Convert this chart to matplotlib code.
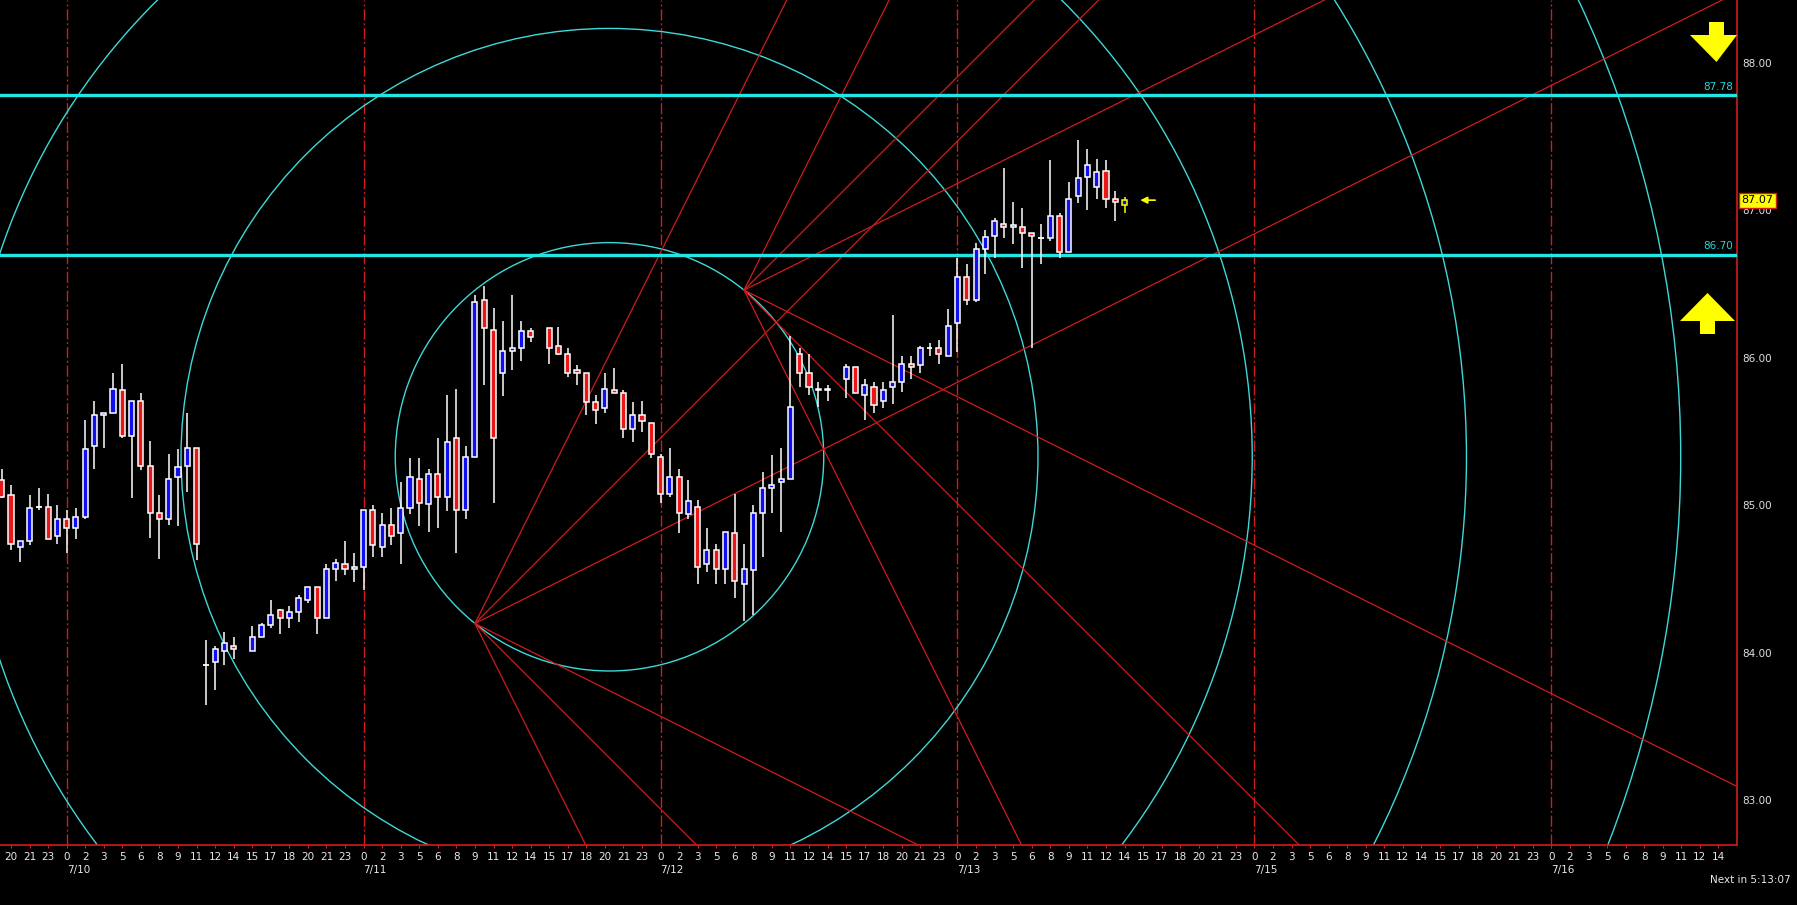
import numpy as np
import matplotlib
matplotlib.use('Agg')
import matplotlib.pyplot as plt
from matplotlib.patches import Ellipse, Polygon
import matplotlib.transforms as mtransforms

nan = np.nan

# 45 minute bars, bar 0 = 7/10 00:00, 32 bars per day
bar_start = -7
opens = [85.17, 85.07, 84.72, 84.76, 84.99, 84.99, 84.79, 84.91, 84.85, 84.92,
         85.40, 85.61, 85.63, 85.78, 85.47, 85.71, 85.27, 84.95, 84.91, 85.19,
         85.27, 85.39, 83.92, 83.94, 84.01, 84.05, nan, 84.01, 84.11, 84.19,
         84.29, 84.24, 84.28, 84.36, 84.45, 84.24, 84.57, 84.60, 84.57, 84.58,
         84.97, 84.72, 84.87, 84.81, 84.98, 85.18, 85.01, 85.21, 85.06, 85.46,
         84.97, 85.33, 86.39, 86.19, 85.90, 86.05, 86.07, 86.18, nan, 86.20,
         86.08, 86.03, 85.92, 85.90, 85.70, 85.66, 85.78, 85.76, 85.52, 85.61,
         85.56, 85.33, 85.08, 85.19, 84.94, 84.99, 84.60, 84.70, 84.57, 84.81,
         84.47, 84.56, 84.95, 85.12, 85.16, 85.18, 86.03, 85.90, 85.79, 85.79,
         nan, 85.86, 85.94, 85.75, 85.80, 85.71, 85.80, 85.84, 85.96, 85.95,
         86.07, 86.07, 86.01, 86.24, 86.55, 86.39, 86.74, 86.83, 86.91, 86.89,
         86.89, 86.85, 86.81, 86.81, 86.96, 86.72, 87.10, 87.23, 87.16, 87.27,
         87.08, 87.04]
highs = [85.25, 85.14, 84.76, 85.07, 85.12, 85.08, 85.00, 84.97, 84.98, 85.58,
         85.71, 85.63, 85.90, 85.96, 85.71, 85.76, 85.44, 85.07, 85.35, 85.38,
         85.63, 85.39, 84.09, 84.05, 84.14, 84.11, nan, 84.18, 84.20, 84.36,
         84.30, 84.32, 84.39, 84.45, 84.45, 84.60, 84.64, 84.76, 84.68, 84.97,
         85.00, 84.95, 84.98, 85.16, 85.32, 85.32, 85.25, 85.46, 85.75, 85.79,
         85.40, 86.43, 86.49, 86.34, 86.25, 86.43, 86.25, 86.20, nan, 86.20,
         86.21, 86.07, 85.95, 85.90, 85.75, 85.90, 85.93, 85.78, 85.70, 85.71,
         85.56, 85.35, 85.39, 85.25, 85.17, 85.04, 84.85, 84.74, 84.82, 85.08,
         84.74, 85.00, 85.23, 85.34, 85.39, 86.15, 86.07, 86.03, 85.84, 85.82,
         nan, 85.96, 85.94, 85.86, 85.84, 85.84, 86.29, 86.01, 86.01, 86.08,
         86.10, 86.12, 86.33, 86.68, 86.64, 86.78, 86.87, 86.95, 87.29, 87.06,
         87.02, 86.85, 86.91, 87.34, 86.98, 87.19, 87.48, 87.42, 87.35, 87.34,
         87.13, 87.09]
lows = [85.05, 84.70, 84.62, 84.73, 84.97, 84.77, 84.74, 84.68, 84.77, 84.91,
        85.25, 85.39, 85.63, 85.46, 85.05, 85.24, 84.78, 84.64, 84.87, 84.86,
        85.09, 84.63, 83.65, 83.75, 83.92, 83.96, nan, 84.01, 84.11, 84.17,
        84.13, 84.17, 84.21, 84.34, 84.13, 84.24, 84.49, 84.53, 84.48, 84.43,
        84.65, 84.65, 84.73, 84.60, 84.94, 84.86, 84.82, 84.85, 84.96, 84.68,
        84.91, 85.33, 85.82, 85.02, 85.74, 85.92, 85.98, 86.11, nan, 85.96,
        86.02, 85.87, 85.82, 85.61, 85.55, 85.63, 85.76, 85.46, 85.43, 85.50,
        85.32, 85.02, 85.06, 84.81, 84.91, 84.47, 84.55, 84.47, 84.47, 84.37,
        84.22, 84.26, 84.65, 84.95, 84.82, 85.18, 85.80, 85.75, 85.67, 85.71,
        nan, 85.73, 85.76, 85.58, 85.63, 85.66, 85.69, 85.77, 85.86, 85.90,
        86.01, 85.96, 86.01, 86.04, 86.36, 86.38, 86.57, 86.68, 86.81, 86.77,
        86.61, 86.07, 86.64, 86.79, 86.68, 86.72, 87.05, 87.00, 87.08, 87.02,
        86.93, 86.98]
closes = [85.06, 84.74, 84.76, 84.98, 84.99, 84.77, 84.91, 84.85, 84.92, 85.38,
          85.61, 85.63, 85.79, 85.47, 85.71, 85.27, 84.95, 84.91, 85.18, 85.26,
          85.39, 84.74, 83.92, 84.03, 84.07, 84.03, nan, 84.11, 84.19, 84.26,
          84.24, 84.28, 84.37, 84.45, 84.24, 84.57, 84.61, 84.57, 84.58, 84.97,
          84.73, 84.87, 84.79, 84.98, 85.19, 85.02, 85.21, 85.06, 85.43, 84.97,
          85.33, 86.38, 86.20, 85.46, 86.05, 86.07, 86.18, 86.14, nan, 86.07,
          86.03, 85.90, 85.90, 85.70, 85.65, 85.79, 85.76, 85.52, 85.61, 85.57,
          85.35, 85.08, 85.19, 84.95, 85.03, 84.58, 84.70, 84.57, 84.82, 84.49,
          84.57, 84.95, 85.12, 85.14, 85.18, 85.67, 85.90, 85.80, 85.78, 85.78,
          nan, 85.94, 85.76, 85.82, 85.68, 85.78, 85.84, 85.96, 85.94, 86.07,
          86.07, 86.03, 86.22, 86.55, 86.39, 86.74, 86.82, 86.93, 86.89, 86.90,
          86.85, 86.83, 86.81, 86.96, 86.72, 87.08, 87.22, 87.31, 87.26, 87.08,
          87.06, 87.07]

day_bars = [0, 32, 64, 96, 128, 160]
day_labels = ['7/10', '7/11', '7/12', '7/13', '7/15', '7/16']
price_ticks = [83.0, 84.0, 85.0, 86.0, 87.0, 88.0]
levels = [87.78, 86.70]
last_price = 87.07

# gann tool: two anchor points, scale in price per bar
anchor_a = (44, 84.20)
anchor_b = (73, 86.46)
gann_scale = 0.0629
fan_ratios = [2, 1, 0.5, -0.5, -1, -2]
n_circles = 5

W, H = 1797, 905
fig = plt.figure(figsize=(W / 100, H / 100), dpi=100, facecolor='black')
ax = fig.add_axes([0, 60 / H, 1737 / W, 845 / H], facecolor='black')
ax.set_xlim(-7.18, 180.0)
ax.set_ylim(82.698, 88.427)

RED = '#d01c1c'
CYAN = '#3fd8d8'

# day separators
for b in day_bars:
    ax.axvline(b, color=RED, lw=1, ls=(0, (8, 2, 1.5, 2)), zorder=1)

# circles
xa, ya = anchor_a
xb, yb = anchor_b
cx, cy = (xa + xb) / 2, (ya + yb) / 2
r = 0.5 * np.hypot(xb - xa, (yb - ya) / gann_scale)
for k in range(1, n_circles + 1):
    ax.add_patch(Ellipse((cx, cy), 2 * r * k, 2 * r * k * gann_scale,
                         fill=False, ec=CYAN, lw=1, zorder=2))

# fan lines
for (x0, y0) in [anchor_a, anchor_b]:
    for m in fan_ratios:
        ax.plot([x0, x0 + 300], [y0, y0 - m * gann_scale * 300], color=RED, lw=0.9, zorder=2)

# horizontal levels
for lv in levels:
    ax.axhline(lv, color='#22e6e6', lw=2.4, zorder=3)
    ax.text(0.9977, lv + 0.025, '%.2f' % lv, transform=ax.get_yaxis_transform(),
            ha='right', va='bottom', color='#22d8d8', fontsize=7.5)

# candles
x = np.arange(bar_start, bar_start + len(opens))
o = np.array(opens); h = np.array(highs); l = np.array(lows); c = np.array(closes)
ok = ~np.isnan(o)
last = len(o) - 1
wick_col = ['white'] * len(o)
wick_col[last] = 'yellow'
for i in np.where(ok)[0]:
    ax.vlines(x[i], l[i], h[i], color=wick_col[i], lw=1.1, zorder=4)
for i in np.where(ok)[0]:
    lo, hi = min(o[i], c[i]), max(o[i], c[i])
    if hi - lo < 0.005:
        ax.hlines(o[i], x[i] - 0.3, x[i] + 0.3, color='white', lw=1.3, zorder=5)
        continue
    fc = '#1010ee' if c[i] > o[i] else '#e81818'
    ec = 'yellow' if i == last else 'white'
    ax.bar(x[i], hi - lo, bottom=lo, width=0.55, color=fc, edgecolor=ec, lw=1.1, zorder=5)

# current price pointer
ax.annotate('', xy=(115.4, last_price), xytext=(117.6, last_price),
            arrowprops=dict(arrowstyle='-|>', color='yellow', lw=1.2, mutation_scale=10), zorder=6)

# axes styling
for s in ['top', 'left']:
    ax.spines[s].set_visible(False)
for s in ['bottom', 'right']:
    ax.spines[s].set_color(RED)
    ax.spines[s].set_linewidth(1.2)

ax.yaxis.tick_right()
ax.set_yticks(price_ticks)
ax.set_yticklabels(['%.2f' % p for p in price_ticks])
ax.tick_params(axis='y', colors='#e0e0e0', length=0, pad=4, labelsize=7.5)

xt = np.arange(-6, 180, 2)
xlabels = ['%d' % (int(np.floor(b * 0.75 + 0.5)) % 24) for b in xt]
ax.set_xticks(xt)
ax.set_xticklabels(xlabels)
ax.tick_params(axis='x', colors=RED, labelcolor='#e8e8e8', length=2, pad=3, labelsize=7.5)

trans = mtransforms.blended_transform_factory(ax.transData, fig.transFigure)
for b, lab in zip(day_bars, day_labels):
    fig.text(b, 1 - 870 / H, lab, transform=trans, ha='left', va='center',
             color='#e8e8e8', fontsize=7.5)

# price box
ax.text(1.0025, last_price, '%.2f' % last_price, transform=ax.get_yaxis_transform(),
        ha='left', va='center', color='black', fontsize=8, zorder=10,
        bbox=dict(boxstyle='square,pad=0.22', fc='yellow', ec=RED, lw=1))

fig.text(1791 / W, 1 - 880 / H, 'Next in 5:13:07', ha='right', va='center',
         color='#e8e8e8', fontsize=7.5)

# big yellow arrows
def px(pts):
    return [(p[0] / W, 1 - p[1] / H) for p in pts]

down = [(1709, 22), (1724, 22), (1724, 35), (1737, 35), (1716.5, 62), (1690, 35), (1709, 35)]
up = [(1707.5, 293), (1735, 321), (1715, 321), (1715, 334), (1700, 334), (1700, 321), (1680, 321)]
for poly in [down, up]:
    fig.patches.append(Polygon(px(poly), closed=True, fc='#ffff00', ec='none',
                               transform=fig.transFigure, figure=fig))

fig.savefig('out.png', dpi=100, facecolor='black')
